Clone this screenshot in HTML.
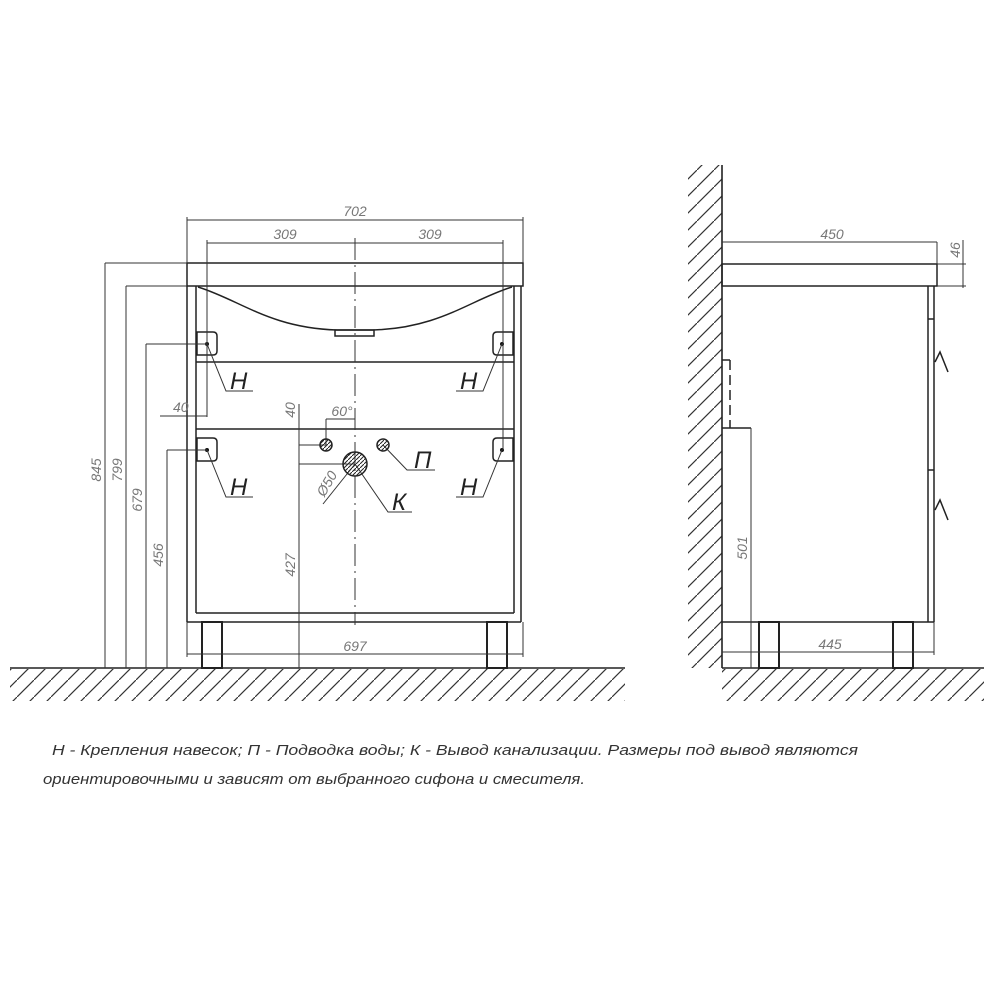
<!DOCTYPE html>
<html><head><meta charset="utf-8"><style>html,body{margin:0;padding:0;background:#fff}svg{display:block}</style></head><body>
<svg width="1000" height="1000" viewBox="0 0 1000 1000" xmlns="http://www.w3.org/2000/svg">
<defs>
<pattern id="h" patternUnits="userSpaceOnUse" width="17" height="17">
<line x1="0" y1="17" x2="17" y2="0" stroke="#333" stroke-width="1.2"/>
</pattern>
<pattern id="hs" patternUnits="userSpaceOnUse" width="4" height="4">
<line x1="0" y1="4" x2="4" y2="0" stroke="#222" stroke-width="1"/>
</pattern>
</defs>
<rect width="1000" height="1000" fill="#fff"/>
<!-- floor hatching -->
<rect x="10" y="669" width="615" height="32" fill="url(#h)"/>
<rect x="722" y="669" width="262" height="32" fill="url(#h)"/>
<rect x="688" y="165" width="34" height="503" fill="url(#h)"/>
<g stroke="#222" fill="none" stroke-width="1.6">
<line x1="10" y1="668" x2="625" y2="668"/>
<line x1="722" y1="668" x2="984" y2="668"/>
<line x1="722" y1="165" x2="722" y2="668"/>
</g>
<!-- FRONT VIEW -->
<g stroke="#222" fill="none" stroke-width="1.5">
<rect x="187" y="263" width="336" height="23"/>
<line x1="187" y1="286" x2="187" y2="622"/>
<line x1="196" y1="286" x2="196" y2="613"/>
<line x1="521" y1="286" x2="521" y2="622"/>
<line x1="514" y1="286" x2="514" y2="613"/>
<line x1="196" y1="613" x2="514" y2="613"/>
<line x1="187" y1="622" x2="521" y2="622"/>
<line x1="196" y1="362" x2="514" y2="362"/>
<line x1="196" y1="429" x2="514" y2="429"/>
<path d="M198 287 C 240 300, 270 328, 337 330 L 373 330 C 440 328, 470 300, 512 287"/>
<rect x="335" y="330" width="39" height="6"/>
<rect x="202" y="622" width="20" height="46" stroke-width="2"/>
<rect x="487" y="622" width="20" height="46" stroke-width="2"/>
<!-- brackets -->
<path d="M197 332 h16 q4 0 4 4 v15 q0 4 -4 4 h-16 z"/>
<path d="M197 438 h16 q4 0 4 4 v15 q0 4 -4 4 h-16 z"/>
<path d="M513 332 h-16 q-4 0 -4 4 v15 q0 4 4 4 h16 z"/>
<path d="M513 438 h-16 q-4 0 -4 4 v15 q0 4 4 4 h16 z"/>
</g>
<g fill="#111">
<circle cx="207" cy="344" r="2"/><circle cx="207" cy="450" r="2"/>
<circle cx="502" cy="344" r="2"/><circle cx="502" cy="450" r="2"/>
</g>
<!-- centerline -->
<line x1="355" y1="238" x2="355" y2="625" stroke="#333" stroke-width="1" stroke-dasharray="22,5,2,5"/>
<!-- dimensions front -->
<g stroke="#333" fill="none" stroke-width="1">
<line x1="187" y1="220" x2="523" y2="220"/>
<line x1="187" y1="217" x2="187" y2="263"/><line x1="523" y1="217" x2="523" y2="263"/>
<line x1="207" y1="243" x2="503" y2="243"/>
<line x1="207" y1="240" x2="207" y2="417"/><line x1="503" y1="240" x2="503" y2="450"/>
<line x1="105" y1="263" x2="187" y2="263"/><line x1="105" y1="263" x2="105" y2="668"/>
<line x1="126" y1="286" x2="187" y2="286"/><line x1="126" y1="286" x2="126" y2="668"/>
<line x1="146" y1="344" x2="207" y2="344"/><line x1="146" y1="344" x2="146" y2="668"/>
<line x1="167" y1="450" x2="207" y2="450"/><line x1="167" y1="450" x2="167" y2="668"/>
<line x1="160" y1="416" x2="207" y2="416"/>
<line x1="299" y1="404" x2="299" y2="668"/>
<line x1="299" y1="445" x2="326" y2="445"/>
<line x1="299" y1="464" x2="355" y2="464"/>
<line x1="326" y1="445" x2="326" y2="419"/><line x1="326" y1="419" x2="355" y2="419"/>
<line x1="187" y1="654" x2="523" y2="654"/>
<line x1="187" y1="622" x2="187" y2="657"/><line x1="523" y1="622" x2="523" y2="657"/>
<!-- leaders -->
<polyline points="207,344 226,391 253,391"/>
<polyline points="207,450 226,497 253,497"/>
<polyline points="502,344 483,391 456,391"/>
<polyline points="502,450 483,497 456,497"/>
<polyline points="383,445 407,470 435,470"/>
<polyline points="355,464 388,512 412,512"/>
<line x1="323" y1="504" x2="355" y2="464"/>
</g>
<!-- pipes -->
<g stroke="#222" stroke-width="1.5">
<circle cx="326" cy="445" r="6" fill="url(#hs)"/>
<circle cx="383" cy="445" r="6" fill="url(#hs)"/>
<circle cx="355" cy="464" r="12" fill="url(#hs)"/>
</g>
<g font-family="Liberation Sans, DejaVu Sans, sans-serif" fill="#777" font-size="14" font-style="italic">
<text x="355" y="216" text-anchor="middle">702</text>
<text x="285" y="239" text-anchor="middle">309</text>
<text x="430" y="239" text-anchor="middle">309</text>
<text x="355" y="651" text-anchor="middle">697</text>
<text x="173" y="412">40</text>
<text x="342" y="416" text-anchor="middle">60°</text>
<text transform="translate(101,470) rotate(-90)" text-anchor="middle">845</text>
<text transform="translate(122,470) rotate(-90)" text-anchor="middle">799</text>
<text transform="translate(142,500) rotate(-90)" text-anchor="middle">679</text>
<text transform="translate(163,555) rotate(-90)" text-anchor="middle">456</text>
<text transform="translate(295,565) rotate(-90)" text-anchor="middle">427</text>
<text transform="translate(295,410) rotate(-90)" text-anchor="middle">40</text>
<text transform="translate(331,486) rotate(-60)" text-anchor="middle">Ø50</text>
</g>
<g font-family="Liberation Sans, DejaVu Sans, sans-serif" fill="#222" font-size="24" font-style="italic">
<text x="230" y="389">Н</text><text x="230" y="495">Н</text>
<text x="460" y="389">Н</text><text x="460" y="495">Н</text>
<text x="414" y="468">П</text><text x="392" y="510">К</text>
</g>
<!-- SIDE VIEW -->
<g stroke="#222" fill="none" stroke-width="1.5">
<rect x="722" y="264" width="215" height="22"/>
<line x1="928" y1="286" x2="928" y2="622"/>
<line x1="934" y1="286" x2="934" y2="622"/>
<line x1="928" y1="319" x2="934" y2="319"/>
<line x1="928" y1="470" x2="934" y2="470"/>
<polyline points="935,362 940,352 948,372"/>
<polyline points="935,510 940,500 948,520"/>
<line x1="722" y1="622" x2="934" y2="622"/>
<rect x="759" y="622" width="20" height="46" stroke-width="2"/>
<rect x="893" y="622" width="20" height="46" stroke-width="2"/>
<line x1="730" y1="360" x2="730" y2="428" stroke-dasharray="10,5"/>
<line x1="722" y1="360" x2="730" y2="360"/>
<line x1="722" y1="428" x2="751" y2="428"/>
</g>
<g stroke="#333" fill="none" stroke-width="1">
<line x1="722" y1="242" x2="937" y2="242"/><line x1="937" y1="242" x2="937" y2="264"/>
<line x1="937" y1="264" x2="966" y2="264"/><line x1="937" y1="286" x2="966" y2="286"/>
<line x1="963" y1="240" x2="963" y2="288"/>
<line x1="751" y1="428" x2="751" y2="668"/>
<line x1="722" y1="652" x2="934" y2="652"/><line x1="934" y1="622" x2="934" y2="655"/>
</g>
<g font-family="Liberation Sans, DejaVu Sans, sans-serif" fill="#777" font-size="14" font-style="italic">
<text x="832" y="239" text-anchor="middle">450</text>
<text x="830" y="649" text-anchor="middle">445</text>
<text transform="translate(960,250) rotate(-90)" text-anchor="middle">46</text>
<text transform="translate(747,548) rotate(-90)" text-anchor="middle">501</text>
</g>
<g font-family="Liberation Sans Narrow, Liberation Sans, DejaVu Sans, sans-serif" fill="#333" font-size="15" font-style="italic">
<text x="52" y="755" textLength="806" lengthAdjust="spacingAndGlyphs">Н - Крепления навесок; П - Подводка воды; К - Вывод канализации. Размеры под вывод являются</text>
<text x="43" y="784" textLength="542" lengthAdjust="spacingAndGlyphs">ориентировочными и зависят от выбранного сифона и смесителя.</text>
</g>
</svg>
</body></html>
